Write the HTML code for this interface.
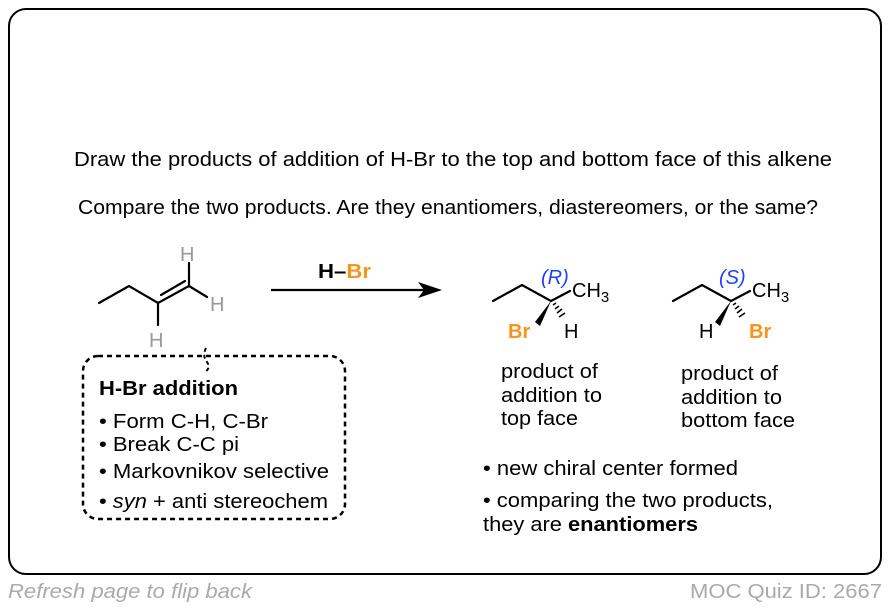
<!DOCTYPE html>
<html><head><meta charset="utf-8"><style>
html,body{margin:0;padding:0;background:#fff;}
body{width:890px;height:608px;position:relative;overflow:hidden;font-family:"Liberation Sans",Arial,sans-serif;}
.frame{position:absolute;left:8px;top:8px;width:870px;height:563px;border:2px solid #000;border-radius:18px;}
svg{position:absolute;left:0;top:0;}
</style></head><body>
<div class="frame"></div>
<svg width="890" height="608" viewBox="0 0 890 608" font-family="Liberation Sans, Arial, sans-serif">
<g font-size="20" fill="#000">
<text x="74" y="166" textLength="758" lengthAdjust="spacingAndGlyphs">Draw the products of addition of H-Br to the top and bottom face of this alkene</text>
<text x="78" y="214" textLength="740" lengthAdjust="spacingAndGlyphs">Compare the two products. Are they enantiomers, diastereomers, or the same?</text>
</g>
<!-- alkene -->
<g stroke="#000" stroke-width="2.2" fill="none" stroke-linecap="round">
<polyline points="99,303 129,286 158,303 189,286"/>
<line x1="161" y1="295" x2="185" y2="281"/>
<line x1="158" y1="303" x2="158" y2="325"/>
<line x1="189" y1="286" x2="189" y2="263"/>
<line x1="189" y1="286" x2="207" y2="297"/>
</g>
<g font-size="20" fill="#999">
<text x="180" y="261">H</text>
<text x="210" y="311">H</text>
<text x="149" y="347">H</text>
</g>
<!-- arrow -->
<line x1="271" y1="290" x2="425" y2="290" stroke="#000" stroke-width="2.2"/>
<polygon points="442,290 418,282 424,290 418,298" fill="#000"/>
<text x="318" y="278" font-size="20" font-weight="bold" textLength="53" lengthAdjust="spacingAndGlyphs"><tspan fill="#000">H–</tspan><tspan fill="#f7941d">Br</tspan></text>
<!-- product 1 -->
<g stroke="#000" stroke-width="2.2" fill="none" stroke-linecap="round">
<polyline points="493,301 522,285 551,301 570,291"/>
</g>
<polygon points="551,301 535,322 540,326" fill="#000"/>
<g stroke="#000" stroke-width="1.6">
<line x1="553" y1="305" x2="556" y2="303"/><line x1="555" y1="309" x2="559" y2="306"/><line x1="557" y1="313" x2="562" y2="309"/><line x1="559" y1="317" x2="565" y2="313"/>
</g>
<text x="541" y="284" font-size="20" font-style="italic" fill="#1f3fff">(R)</text>
<text x="572" y="297" font-size="20">CH<tspan font-size="15" dy="5">3</tspan></text>
<text x="508" y="338" font-size="20" font-weight="bold" fill="#f7941d">Br</text>
<text x="564" y="338" font-size="20">H</text>
<!-- product 2 -->
<g stroke="#000" stroke-width="2.2" fill="none" stroke-linecap="round">
<polyline points="673,301 702,285 731,301 750,291"/>
</g>
<polygon points="731,301 715,322 720,326" fill="#000"/>
<g stroke="#000" stroke-width="1.6">
<line x1="733" y1="305" x2="736" y2="303"/><line x1="735" y1="309" x2="739" y2="306"/><line x1="737" y1="313" x2="742" y2="309"/><line x1="739" y1="317" x2="745" y2="313"/>
</g>
<text x="719" y="284" font-size="20" font-style="italic" fill="#1f3fff">(S)</text>
<text x="752" y="297" font-size="20">CH<tspan font-size="15" dy="5">3</tspan></text>
<text x="699" y="338" font-size="20">H</text>
<text x="749" y="338" font-size="20" font-weight="bold" fill="#f7941d">Br</text>
<!-- captions -->
<g font-size="20">
<text x="501" y="378" textLength="97" lengthAdjust="spacingAndGlyphs">product of</text>
<text x="501" y="402" textLength="101" lengthAdjust="spacingAndGlyphs">addition to</text>
<text x="501" y="425" textLength="77" lengthAdjust="spacingAndGlyphs">top face</text>
<text x="681" y="380" textLength="97" lengthAdjust="spacingAndGlyphs">product of</text>
<text x="681" y="404" textLength="101" lengthAdjust="spacingAndGlyphs">addition to</text>
<text x="681" y="427" textLength="114" lengthAdjust="spacingAndGlyphs">bottom face</text>
<text x="483" y="475" textLength="255" lengthAdjust="spacingAndGlyphs">• new chiral center formed</text>
<text x="483" y="507" textLength="290" lengthAdjust="spacingAndGlyphs">• comparing the two products,</text>
<text x="483" y="531" textLength="215" lengthAdjust="spacingAndGlyphs">they are <tspan font-weight="bold">enantiomers</tspan></text>
</g>
<!-- dotted box -->
<rect x="83" y="356" width="262" height="163" rx="15" fill="none" stroke="#000" stroke-width="2.5" stroke-dasharray="5,4"/>
<path d="M206,348 Q202,356 207,362 Q211,368 205,372" fill="none" stroke="#000" stroke-width="2" stroke-dasharray="4,3"/>
<g font-size="20">
<text x="99" y="395" font-weight="bold" textLength="139" lengthAdjust="spacingAndGlyphs">H-Br addition</text>
<text x="99" y="428" textLength="169" lengthAdjust="spacingAndGlyphs">• Form C-H, C-Br</text>
<text x="99" y="451" textLength="140" lengthAdjust="spacingAndGlyphs">• Break C-C pi</text>
<text x="99" y="478" textLength="230" lengthAdjust="spacingAndGlyphs">• Markovnikov selective</text>
<text x="99" y="508" textLength="229" lengthAdjust="spacingAndGlyphs">• <tspan font-style="italic">syn</tspan> + anti stereochem</text>
</g>
<text x="8" y="598" font-size="20" font-style="italic" fill="#aaa" textLength="244" lengthAdjust="spacingAndGlyphs">Refresh page to flip back</text>
<text x="690" y="598" font-size="20" fill="#aaa" textLength="192" lengthAdjust="spacingAndGlyphs">MOC Quiz ID: 2667</text>
</svg>
</body></html>
